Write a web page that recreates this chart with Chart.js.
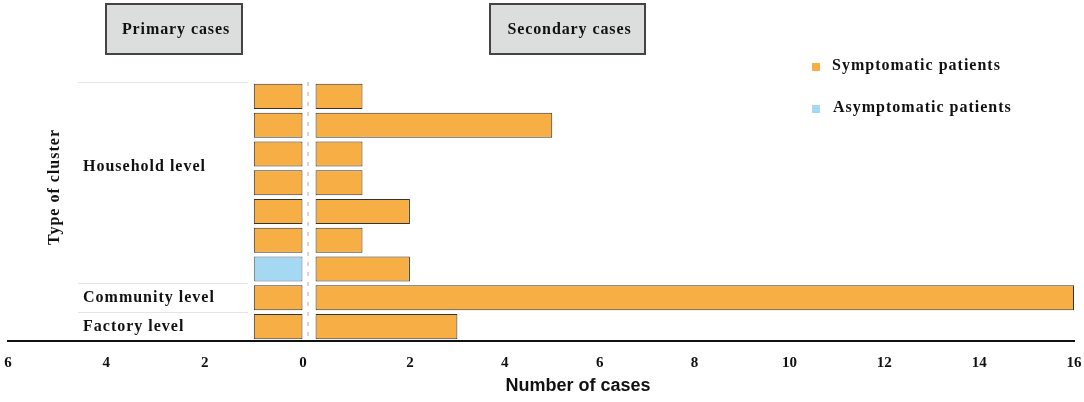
<!DOCTYPE html>
<html>
<head>
<meta charset="utf-8">
<script src="https://cdn.jsdelivr.net/npm/chart.js@4.4.1/dist/chart.umd.min.js"></script>
<style>
  html, body { margin: 0; padding: 0; background: #fff; }
  #wrap { width: 1084px; height: 402px; }
</style>
</head>
<body>
<div id="wrap"><canvas id="chart"></canvas></div>
<script>
// one row per cluster, top to bottom
const clusters = ['Household 1', 'Household 2', 'Household 3', 'Household 4', 'Household 5',
                  'Household 6', 'Household 7', 'Community', 'Factory'];
const primarySymptomatic = [1, 1, 1, 1, 1, 1, null, 1, 1];
const primaryAsymptomatic = [null, null, null, null, null, null, 1, null, null];
const secondaryCases = [1, 5, 1, 1, 2, 1, 2, 16, 3];

// cluster groups shown as row labels
const groupLabels = ['Household level', 'Community level', 'Factory level'];
const groupSizes = [7, 1, 1];

const legendLabels = ['Symptomatic patients', 'Asymptomatic patients'];
const panelTitles = ['Primary cases', 'Secondary cases'];

const ORANGE = '#F7AE45';
const BLUE = '#A4D8F3';
const SERIF = '"Liberation Serif", "Times New Roman", serif';

const decorPlugin = {
    id: 'decor',
    beforeDatasetsDraw(chart) {
        const ctx = chart.ctx;
        const y = chart.scales.y;
        const x1 = chart.scales.x1;
        const area = chart.chartArea;

        // dashed divider between the two halves
        ctx.save();
        ctx.strokeStyle = '#d4d4d4';
        ctx.lineWidth = 2;
        ctx.setLineDash([4, 6]);
        ctx.beginPath();
        ctx.moveTo(x1.right - 1, area.top);
        ctx.lineTo(x1.right - 1, area.bottom);
        ctx.stroke();
        ctx.restore();

        // group separators + labels
        ctx.save();
        ctx.strokeStyle = '#e4e4e4';
        ctx.lineWidth = 1;
        const half = (y.getPixelForValue(1) - y.getPixelForValue(0)) / 2;
        let start = 0;
        ctx.font = 'bold 16px ' + SERIF;
        ctx.letterSpacing = '1px';
        ctx.fillStyle = '#111';
        ctx.textBaseline = 'middle';
        groupLabels.forEach((label, i) => {
            const end = start + groupSizes[i] - 1;
            const top = y.getPixelForValue(start) - half;
            const bottom = y.getPixelForValue(end) + half;
            ctx.beginPath();
            ctx.moveTo(78, Math.round(top) + 0.5);
            ctx.lineTo(248, Math.round(top) + 0.5);
            ctx.stroke();
            let cy = (top + bottom) / 2;
            if (groupSizes[i] > 1) cy -= 16;
            ctx.fillText(label, 83, cy);
            start = end + 1;
        });
        ctx.restore();

        // y axis title
        ctx.save();
        ctx.translate(55, 187);
        ctx.rotate(-Math.PI / 2);
        ctx.font = 'bold 16px ' + SERIF;
        ctx.letterSpacing = '1px';
        ctx.fillStyle = '#111';
        ctx.textAlign = 'center';
        ctx.textBaseline = 'middle';
        ctx.fillText('Type of cluster', 0, 0);
        ctx.restore();
    },
    afterDraw(chart) {
        const ctx = chart.ctx;
        ctx.save();
        // panel title boxes
        const boxes = [[106, 242], [490, 645]];
        ctx.font = 'bold 16px ' + SERIF;
        ctx.letterSpacing = '0.9px';
        ctx.textAlign = 'center';
        ctx.textBaseline = 'middle';
        panelTitles.forEach((t, i) => {
            const [l, r] = boxes[i];
            ctx.fillStyle = '#dcdddd';
            ctx.fillRect(l, 4, r - l, 50);
            ctx.strokeStyle = '#444';
            ctx.lineWidth = 2;
            ctx.strokeRect(l, 4, r - l, 50);
            ctx.fillStyle = '#111';
            ctx.fillText(t, (l + r) / 2 + 2, 30);
        });

        // legend
        const legendColors = [ORANGE, BLUE];
        const legendY = [66, 108];
        ctx.textAlign = 'left';
        ctx.letterSpacing = '1px';
        legendLabels.forEach((t, i) => {
            ctx.fillStyle = legendColors[i];
            ctx.fillRect(812, legendY[i] - 3, 8, 8);
            ctx.fillStyle = '#111';
            ctx.fillText(t, 832 + i, legendY[i]);
        });

        // x axis title
        ctx.font = 'bold 18px "Liberation Sans", Arial, sans-serif';
        ctx.letterSpacing = '0px';
        ctx.textAlign = 'center';
        ctx.fillText('Number of cases', 578, 386);
        ctx.restore();
    }
};

const barStyle = {
    borderColor: '#333',
    borderWidth: 1,
    borderSkipped: false,
    grouped: false,
    barPercentage: 0.87,
    categoryPercentage: 1
};

const tickFont = { family: SERIF, size: 15, weight: 'bold' };
// tick marks kept invisible, only used to push labels away from the axis line
const axisGrid = { display: true, drawOnChartArea: false, drawTicks: true, tickLength: 13, color: 'rgba(0,0,0,0)' };

new Chart(document.getElementById('chart'), {
    type: 'bar',
    data: {
        labels: clusters,
        datasets: [
            { label: 'Primary symptomatic', data: primarySymptomatic, xAxisID: 'x1',
              backgroundColor: ORANGE, ...barStyle },
            { label: 'Primary asymptomatic', data: primaryAsymptomatic, xAxisID: 'x1',
              backgroundColor: BLUE, ...barStyle, borderColor: '#5a6a72' },
            { label: 'Secondary cases', data: secondaryCases, xAxisID: 'x2',
              backgroundColor: ORANGE, ...barStyle }
        ]
    },
    options: {
        indexAxis: 'y',
        responsive: true,
        maintainAspectRatio: false,
        animation: false,
        layout: { padding: { top: 82, left: 8, right: 10, bottom: 30 } },
        plugins: {
            legend: { display: false },
            tooltip: { enabled: false }
        },
        scales: {
            y: {
                display: false
            },
            x1: {
                type: 'linear',
                position: 'bottom',
                stack: 'cases',
                stackWeight: 300,
                reverse: true,
                min: -0.125,
                max: 6,
                grid: axisGrid,
                border: { display: true, color: '#111', width: 2 },
                ticks: { stepSize: 2, includeBounds: false, font: tickFont, color: '#111', padding: 0 }
            },
            x2: {
                type: 'linear',
                position: 'bottom',
                stack: 'cases',
                stackWeight: 762,
                min: -0.125,
                max: 16,
                grid: axisGrid,
                border: { display: true, color: '#111', width: 2 },
                ticks: {
                    stepSize: 2, includeBounds: false, font: tickFont, color: '#111', padding: 0,
                    callback: v => v === 0 ? '' : v
                }
            }
        }
    },
    plugins: [decorPlugin]
});
</script>
</body>
</html>
